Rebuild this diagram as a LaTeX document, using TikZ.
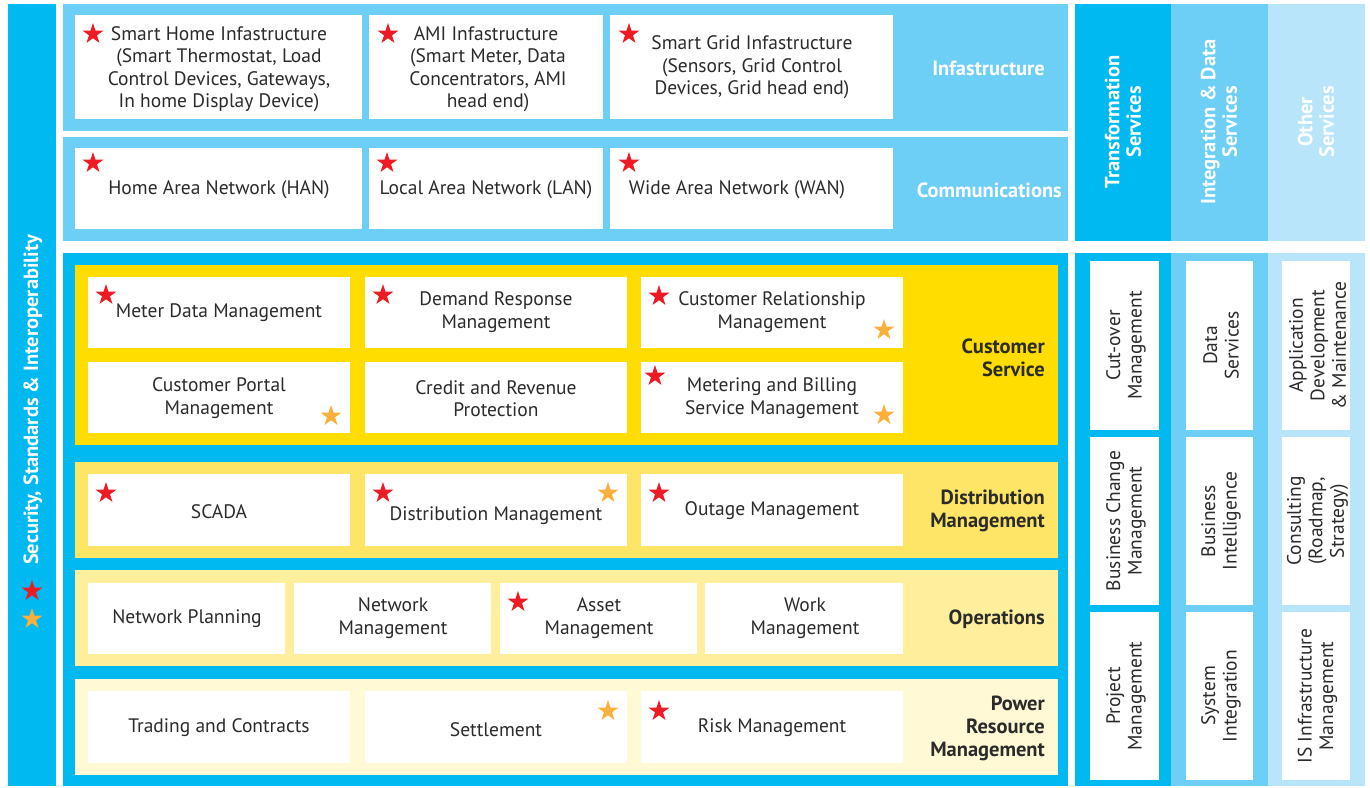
\documentclass[tikz,border=0pt]{standalone}
\usepackage{fontspec}
\setmainfont{PT Sans}
\usetikzlibrary{shapes.geometric}
\definecolor{cyanD}{HTML}{00B9F1}
\definecolor{cyanM}{HTML}{6DCFF6}
\definecolor{cyanL}{HTML}{B9E5FB}
\definecolor{yelA}{HTML}{FFDD00}
\definecolor{yelB}{HTML}{FFE566}
\definecolor{yelC}{HTML}{FFEE9C}
\definecolor{yelD}{HTML}{FFF9D6}
\definecolor{starR}{HTML}{ED1C24}
\definecolor{starO}{HTML}{FBB03B}
\definecolor{txtc}{HTML}{2B2B2B}
\begin{document}
\begin{tikzpicture}[x=1pt,y=-1pt,
  txt/.style={text=txtc, align=center, inner sep=0pt, yshift=-1.5pt, font=\fontsize{19.5}{22.5}\selectfont},
  lbl/.style={text=txtc, align=right, inner sep=0pt, anchor=east, yshift=-1.5pt, font=\bfseries\fontsize{20.5}{23}\selectfont},
  wlbl/.style={text=white, align=center, inner sep=0pt, font=\bfseries\fontsize{20.5}{21.5}\selectfont},
  vtxt/.style={text=txtc, align=center, inner sep=0pt, rotate=90, font=\fontsize{19.5}{21.5}\selectfont},
  rstar/.style={star, star points=5, star point ratio=2.6, fill=starR, draw=none, inner sep=0pt, minimum size=22pt},
  ostar/.style={rstar, fill=starO},
]
\useasboundingbox (0,0) rectangle (1370,787);
\fill[white] (0,0) rectangle (1370,787);
% left strip
\fill[cyanD] (8,4) rectangle (56,786);
\node[wlbl, rotate=90, font=\bfseries\fontsize{20.5}{22}\selectfont] (sec) at (33,400) {Security, Standards \& Interoperability};
\node[rstar] (ls1) at (32,591) {};
\node[ostar] (ls2) at (32,619) {};
% top panels
\fill[cyanM] (63,4) rectangle (1068,131);
\fill[cyanM] (63,137) rectangle (1068,241);
\foreach \a/\b in {75/362,369/603,610/893}{
  \fill[white] (\a,15) rectangle (\b,119);
  \fill[white] (\a,148) rectangle (\b,229);
}
\node[wlbl, anchor=east] (infl) at (1045,68) {Infastructure};
\node[wlbl, anchor=east] (coml) at (1062,190) {Communications};
\node[txt] (shi) at (219,67.5) {Smart Home Infastructure\\(Smart Thermostat, Load\\Control Devices, Gateways,\\In home Display Device)};
\node[rstar] (s1) at (93,34) {};
\node[txt] (ami) at (488,67.5) {\hspace*{-4pt}AMI Infastructure\\(Smart Meter, Data\\Concentrators, AMI\\head end)};
\node[rstar] (s2) at (388,34) {};
\node[txt] (sgi) at (752,66) {Smart Grid Infastructure\\(Sensors, Grid Control\\Devices, Grid head end)};
\node[rstar] (s3) at (629,34) {};
\node[txt] (han) at (219,188) {Home Area Network (HAN)};
\node[rstar] (s4) at (93,163) {};
\node[txt] (lan) at (486,188) {Local Area Network (LAN)};
\node[rstar] (s5) at (387,163) {};
\node[txt] (wan) at (737,188) {Wide Area Network (WAN)};
\node[rstar] (s6) at (629,163) {};
% right top columns
\fill[cyanD] (1075,4) rectangle (1171,241);
\fill[cyanM] (1171,4) rectangle (1268,241);
\fill[cyanL] (1268,4) rectangle (1365,241);
\node[wlbl, rotate=90] (ts) at (1123,122) {Transformation\\Services};
\node[wlbl, rotate=90] (ids) at (1219,122) {Integration \& Data\\Services};
\node[wlbl, rotate=90] (os) at (1316,122) {Other\\Services};
% main lower panel
\fill[cyanD] (63,253) rectangle (1068,786);
\fill[yelA] (75,265) rectangle (1058,445);
\fill[yelB] (75,462) rectangle (1058,558);
\fill[yelC] (75,570) rectangle (1058,666);
\fill[yelD] (75,679) rectangle (1058,775);
\foreach \a/\b in {88/350,365/627,641/903}{
  \fill[white] (\a,277) rectangle (\b,348);
  \fill[white] (\a,362) rectangle (\b,433);
  \fill[white] (\a,474) rectangle (\b,546);
  \fill[white] (\a,691) rectangle (\b,763);
}
\foreach \a/\b in {88/285,294/491,500/697,705/903}{
  \fill[white] (\a,583) rectangle (\b,654);
}
\node[lbl] (csl) at (1045,356) {Customer\\Service};
\node[lbl] (dml) at (1045,509) {Distribution\\Management};
\node[lbl] (opl) at (1045,618) {Operations};
\node[lbl] (prl) at (1045,727) {Power\\Resource\\Management};
% customer service
\node[txt] (mdm) at (219,311) {Meter Data Management};
\node[rstar] (s7) at (106,295) {};
\node[txt] (drm) at (496,310.5) {Demand Response\\Management};
\node[rstar] (s8) at (383,295) {};
\node[txt] (crm) at (772,310.5) {Customer Relationship\\Management};
\node[rstar] (s9) at (659,296) {};
\node[ostar] (o1) at (884,330) {};
\node[txt] (cpm) at (219,396.5) {Customer Portal\\Management};
\node[ostar] (o2) at (331,416) {};
\node[txt] (crp) at (496,397) {Credit and Revenue\\Protection};
\node[txt] (mbs) at (772,396.5) {Metering and Billing\\Service Management};
\node[rstar] (s10) at (655,376) {};
\node[ostar] (o3) at (884,415) {};
% distribution
\node[txt] (scada) at (219,510) {SCADA};
\node[rstar] (s11) at (106,493) {};
\node[txt] (dism) at (496,514) {Distribution Management};
\node[rstar] (s12) at (383,493) {};
\node[ostar] (o4) at (608,493) {};
\node[txt] (outm) at (772,509) {Outage Management};
\node[rstar] (s13) at (659,493) {};
% operations
\node[txt] (np) at (187,617) {Network Planning};
\node[txt] (nm) at (393,616.5) {Network\\Management};
\node[txt] (am) at (599,616.5) {Asset\\Management};
\node[rstar] (s14) at (518,602) {};
\node[txt] (wm) at (805,616.5) {Work\\Management};
% power resource
\node[txt] (tc) at (219,726) {Trading and Contracts};
\node[txt] (setl) at (496,728) {Settlement};
\node[ostar] (o5) at (608,711) {};
\node[txt] (rm) at (772,726) {Risk Management};
\node[rstar] (s15) at (659,711) {};
% right lower columns
\fill[cyanD] (1075,253) rectangle (1171,786);
\fill[cyanM] (1171,253) rectangle (1268,786);
\fill[cyanL] (1268,253) rectangle (1365,786);
\foreach \a/\b in {1090/1159,1186/1253,1282/1350}{
  \fill[white] (\a,261) rectangle (\b,430);
  \fill[white] (\a,437) rectangle (\b,605);
  \fill[white] (\a,612) rectangle (\b,780);
}
\node[vtxt] (com) at (1126,345.5) {Cut-over\\Management};
\node[vtxt] (bcm) at (1126,521) {Business Change\\Management};
\node[vtxt] (pm) at (1126,696) {Project\\Management};
\node[vtxt] (dsv) at (1221,345.5) {Data\\Services};
\node[vtxt] (bi) at (1221,521) {Business\\Intelligence};
\node[vtxt] (si) at (1221,696) {System\\Integration};
\node[vtxt] (adm) at (1317.5,345.5) {Application\\Development\\\& Maintenance};
\node[vtxt] (cons) at (1317.5,521) {Consulting\\(Roadmap,\\Strategy)};
\node[vtxt] (isim) at (1317.5,696) {IS Infrastructure\\Management};
\end{tikzpicture}
\end{document}
